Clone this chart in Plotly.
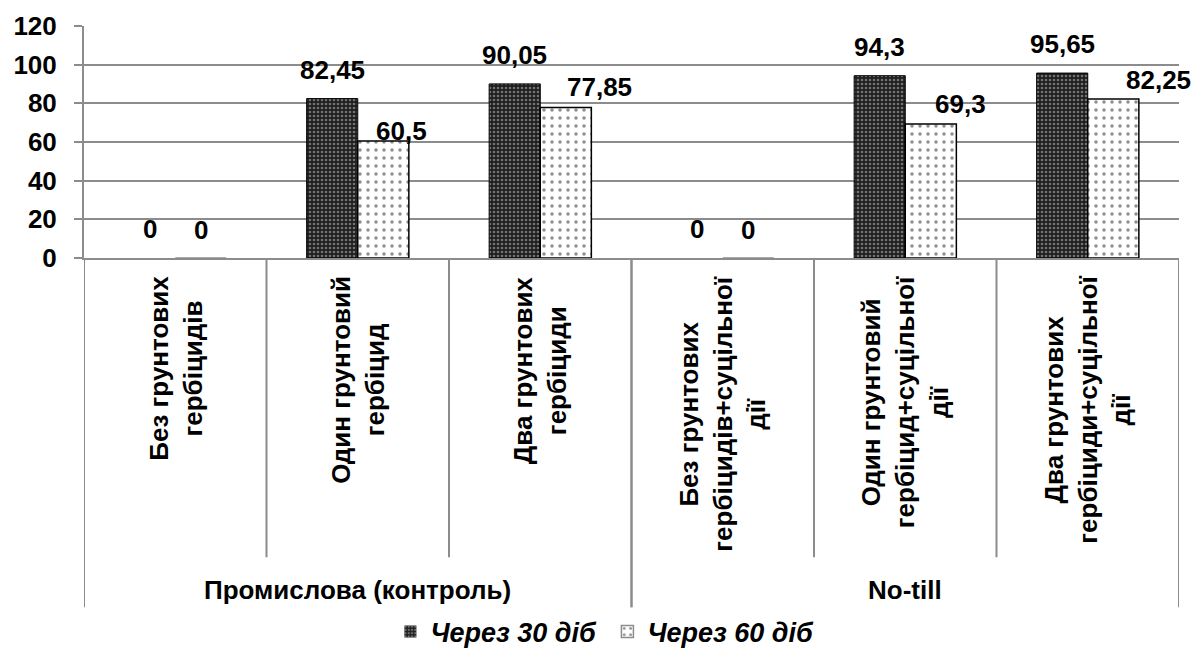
import plotly.graph_objects as go

# ---- data ----
groups = ["Промислова (контроль)", "No-till"]
group_sizes = [3, 3]
categories = [
    "Без грунтових<br>гербіцидів",
    "Один грунтовий<br>гербіцид",
    "Два грунтових<br>гербіциди",
    "Без грунтових<br>гербіцидів+суцільної<br>дії",
    "Один грунтовий<br>гербіцид+суцільної<br>дії",
    "Два грунтових<br>гербіциди+суцільної<br>дії",
]
series_names = ["Через 30 діб", "Через 60 діб"]
values_30 = [0, 82.45, 90.05, 0, 94.3, 95.65]
values_60 = [0, 60.5, 77.85, 0, 69.3, 82.25]
y_ticks = [0, 20, 40, 60, 80, 100, 120]

# label nudges (px) for the second series labels, as placed in the source chart
label2_nudge = [(0, 11), (18, -7), (34, 3), (0, 11), (30, 3), (45, 2)]

FONT = "Liberation Sans, Arial, sans-serif"
GRID = "#8c8c8c"
FS = 26

x_idx = list(range(len(categories)))
bargap = 0.44
bar_w = (1 - bargap) / 2

fig = go.Figure()
fig.add_trace(go.Bar(
    x=x_idx, y=values_30, name=series_names[0],
    marker=dict(color="#1e1e1e",
                line=dict(color="#000000", width=[0 if v == 0 else 1 for v in values_30]),
                pattern=dict(shape=".", fgcolor="#c8c8c8", bgcolor="#1e1e1e",
                             size=4, solidity=0.35)),
))
fig.add_trace(go.Bar(
    x=x_idx, y=values_60, name=series_names[1],
    marker=dict(color="#ffffff",
                line=dict(color=[GRID if v == 0 else "#000000" for v in values_60], width=1.5),
                pattern=dict(shape=".", fgcolor="#222222", bgcolor="#ffffff",
                             size=8, solidity=0.16)),
))

def fmt(v):
    return f"{v:g}".replace(".", ",")

annotations = []
for i, v in enumerate(values_30):
    annotations.append(dict(
        x=i - bar_w / 2, y=v, xref="x", yref="y", text=fmt(v), showarrow=False,
        xanchor="center", yanchor="bottom", yshift=12,
        font=dict(family=FONT, size=FS, color="#000000", weight="bold")))
for i, v in enumerate(values_60):
    dx, dy = label2_nudge[i]
    annotations.append(dict(
        x=i + bar_w / 2, y=v, xref="x", yref="y", text=fmt(v), showarrow=False,
        xanchor="center", yanchor="bottom", xshift=dx, yshift=dy,
        font=dict(family=FONT, size=FS, color="#000000", weight="bold")))

# rotated category labels
for i, c in enumerate(categories):
    annotations.append(dict(
        x=i, y=0, xref="x", yref="y", text=c, showarrow=False, textangle=-90,
        xanchor="center", yanchor="top", yshift=-16, align="center",
        font=dict(family=FONT, size=FS, color="#000000", weight="bold")))

# group labels
start = 0
shapes = []
for g, n in zip(groups, group_sizes):
    center = start + (n - 1) / 2
    annotations.append(dict(
        x=center, y=0, xref="x", yref="y", text=g, showarrow=False,
        xanchor="center", yanchor="middle", yshift=-332,
        font=dict(family=FONT, size=FS, color="#000000", weight="bold")))
    for b in (start - 0.5, start + n - 0.5):
        shapes.append(dict(type="line", xref="x", yref="paper", x0=b, x1=b,
                           y0=0, y1=-1.505, line=dict(color=GRID, width=2)))
    for k in range(1, n):
        b = start + k - 0.5
        shapes.append(dict(type="line", xref="x", yref="paper", x0=b, x1=b,
                           y0=0, y1=-1.29, line=dict(color=GRID, width=2)))
    start += n

fig.update_layout(
    width=1199, height=654,
    margin=dict(l=84, r=20, t=26, b=396, autoexpand=False),
    paper_bgcolor="white", plot_bgcolor="white",
    barmode="group", bargap=bargap, bargroupgap=0,
    showlegend=True,
    legend=dict(orientation="h", x=0.478, xanchor="center", y=-1.612, yanchor="middle",
                font=dict(family=FONT, size=27, color="#000000", weight="bold", style="italic"),
                itemwidth=30, entrywidth=172, entrywidthmode="pixels",
                bgcolor="rgba(0,0,0,0)"),
    annotations=annotations,
    shapes=shapes,
    xaxis=dict(range=[-0.5, len(categories) - 0.5], showticklabels=False, showgrid=False,
               zeroline=False, showline=True, linecolor=GRID, linewidth=2, ticks="",
               automargin=False, fixedrange=True),
    yaxis=dict(range=[0, 120], tickvals=y_ticks, showgrid=True, gridcolor=GRID, gridwidth=2,
               zeroline=False, showline=True, linecolor=GRID, linewidth=2,
               ticks="outside", ticklen=8, tickcolor=GRID, tickwidth=2,
               ticklabelstandoff=12,
               tickfont=dict(family=FONT, size=FS, color="#000000", weight="bold"),
               automargin=False, fixedrange=True),
)

fig.write_html("out.html", config={"displayModeBar": False},
               post_script="document.body.style.margin='0';")
